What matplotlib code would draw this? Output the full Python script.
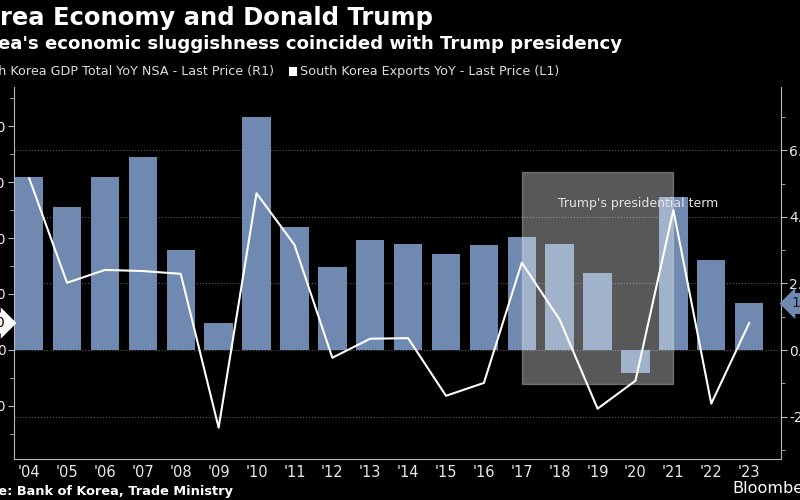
import matplotlib
matplotlib.use("Agg")
import matplotlib.pyplot as plt
from matplotlib.patches import Rectangle

# data
years = list(range(2004, 2024))
year_labels = ["'%02d" % (y % 100) for y in years]
gdp_yoy = [5.2, 4.3, 5.2, 5.8, 3.0, 0.8, 7.0, 3.7, 2.5, 3.3,
           3.2, 2.9, 3.15, 3.4, 3.2, 2.3, -0.7, 4.6, 2.7, 1.4]
exports_yoy = [30.7, 12.0, 14.3, 14.1, 13.6, -13.9, 28.0, 18.8, -1.4, 2.0,
               2.1, -8.2, -5.9, 15.6, 5.4, -10.5, -5.5, 25.0, -9.6, 4.8]
term_start, term_end = 2017, 2021

gdp_ticks = [-2, 0, 2, 4, 6]
gdp_minor = [-3, -1, 1, 3, 5, 7]
exp_ticks = [-10, 0, 10, 20, 30, 40]
exp_minor = [-15, -5, 5, 15, 25, 35, 45]

bar_color = '#7089b0'
spine_color = '#b8b8b8'
txt_color = '#e8e8e8'

fig = plt.figure(figsize=(8, 5), dpi=100, facecolor='black')
ax = fig.add_axes([14/800, 41/500, 767/800, 372/500])
ax.set_facecolor('black')

# GDP bars (right axis)
ax.bar(years, gdp_yoy, width=0.75, color=bar_color, zorder=2)
ax.set_xlim(2003.6, 2023.84)
ax.set_ylim(-3.27, 7.9)

# shaded box for the presidential term
box = Rectangle((term_start, -1.02), term_end - term_start, 6.37,
                facecolor='white', alpha=0.35, edgecolor='#e8e8e8',
                linewidth=1, zorder=3)
ax.add_patch(box)
ax.text(2020.07, 4.41, "Trump's presidential term", ha='center', va='center',
        color='#e4e4e4', fontsize=9, zorder=6)

# exports line (left axis)
ax2 = ax.twinx()
ax2.plot(years, exports_yoy, color='white', linewidth=1.5, zorder=5)
ax2.set_ylim(-19.5, 47.0)

ax.yaxis.tick_right()
ax2.yaxis.tick_left()

ax.set_xticks(years)
ax.set_xticklabels(year_labels)
ax.set_xticks(years[1::2], minor=True)
ax.set_yticks(gdp_ticks)
ax.set_yticklabels([f"{v:.1f}" for v in gdp_ticks])
ax.set_yticks(gdp_minor, minor=True)
ax2.set_yticks(exp_ticks)
ax2.set_yticklabels([f"{v:.0f}" for v in exp_ticks])
ax2.set_yticks(exp_minor, minor=True)

ax.grid(axis='y', which='major', linestyle=':', color='#5a5a5a', linewidth=0.8, zorder=1)
ax.grid(axis='x', which='minor', linestyle=':', color='#5a5a5a', linewidth=0.8, zorder=1)
ax.set_axisbelow(True)

ax.tick_params(axis='x', which='both', length=0, colors=txt_color, labelsize=10.5, pad=4)
ax.tick_params(axis='y', which='major', length=4, color=spine_color, labelcolor=txt_color,
               labelsize=10, pad=2)
ax.tick_params(axis='y', which='minor', length=3, color=spine_color)
ax2.tick_params(axis='y', which='major', length=4, color=spine_color, labelcolor=txt_color,
                labelsize=10, pad=2)
ax2.tick_params(axis='y', which='minor', length=3, color=spine_color)

ax.spines['top'].set_visible(False)
for s in ['left', 'right', 'bottom']:
    ax.spines[s].set_color(spine_color)
for s in ax2.spines.values():
    s.set_visible(False)

# last value tags
ax2.annotate(f"{exports_yoy[-1]:.2f}", xy=(0, exports_yoy[-1]),
             xycoords=('axes fraction', 'data'), xytext=(-9, 0),
             textcoords='offset pixels', ha='right', va='center',
             fontsize=10, color='black', annotation_clip=False,
             bbox=dict(boxstyle='rarrow,pad=0.25', fc='white', ec='none'))
ax.annotate(f"{gdp_yoy[-1]:.2f}", xy=(1, gdp_yoy[-1]),
            xycoords=('axes fraction', 'data'), xytext=(10, 0),
            textcoords='offset pixels', ha='left', va='center',
            fontsize=10, color='#15192a', annotation_clip=False,
            bbox=dict(boxstyle='larrow,pad=0.25', fc=bar_color, ec='none'))

# titles and legend
fig.text(433/800, 1 - 18/500, "Korea Economy and Donald Trump", ha='right', va='center',
         color='white', fontsize=17.5, fontweight='bold')
fig.text(622/800, 1 - 44/500, "Korea's economic sluggishness coincided with Trump presidency",
         ha='right', va='center', color='white', fontsize=13.1, fontweight='bold')
fig.text(274/800, 1 - 72/500, "South Korea GDP Total YoY NSA - Last Price (R1)",
         ha='right', va='center', color='#dddddd', fontsize=9.15)
fig.add_artist(Rectangle((289/800, 1 - 76/500), 8/800, 9/500,
                         transform=fig.transFigure, facecolor='white', edgecolor='none'))
fig.text(300/800, 1 - 72/500, "South Korea Exports YoY - Last Price (L1)",
         ha='left', va='center', color='#dddddd', fontsize=9.15)

# footer
fig.text(233/800, 1 - 491/500, "Source: Bank of Korea, Trade Ministry", ha='right',
         va='center', color='white', fontsize=9.3, fontweight='bold')
fig.text(732/800, 1 - 489/500, "Bloomberg", ha='left', va='center',
         color='white', fontsize=11.6)

fig.savefig('out.png', dpi=100, facecolor='black')
